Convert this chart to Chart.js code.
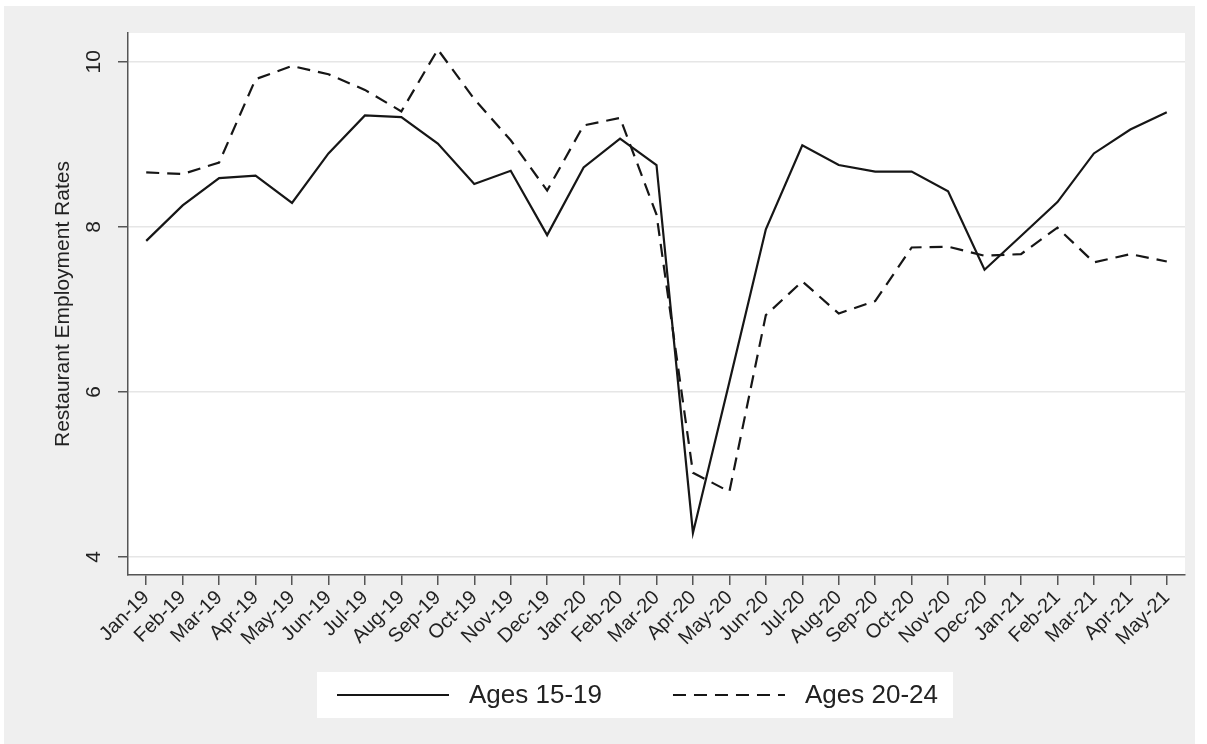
<!DOCTYPE html>
<html>
<head>
<meta charset="utf-8">
<script src="https://cdn.jsdelivr.net/npm/chart.js@4.4.0/dist/chart.umd.min.js"></script>
<style>
    html, body { margin: 0; padding: 0; background: #fff; }
    #frame { position: absolute; left: 4px; top: 6px; width: 1191px; height: 738px; background: #efefef; }
    canvas { display: block; }
</style>
</head>
<body>
<div id="frame"><canvas id="chart"></canvas></div>
<script>
const months = [
    'Jan-19', 'Feb-19', 'Mar-19', 'Apr-19', 'May-19', 'Jun-19', 'Jul-19', 'Aug-19', 'Sep-19', 'Oct-19', 'Nov-19', 'Dec-19',
    'Jan-20', 'Feb-20', 'Mar-20', 'Apr-20', 'May-20', 'Jun-20', 'Jul-20', 'Aug-20', 'Sep-20', 'Oct-20', 'Nov-20', 'Dec-20',
    'Jan-21', 'Feb-21', 'Mar-21', 'Apr-21', 'May-21'
];
const ages1519 = [
    7.83, 8.26, 8.59, 8.62, 8.29, 8.89, 9.35, 9.33, 9.01, 8.52, 8.68, 7.90,
    8.72, 9.07, 8.75, 4.29, 6.12, 7.97, 8.99, 8.75, 8.67, 8.67, 8.43, 7.48,
    7.89, 8.30, 8.89, 9.18, 9.39
];
const ages2024 = [
    8.66, 8.64, 8.78, 9.79, 9.95, 9.85, 9.66, 9.40, 10.15, 9.55, 9.05, 8.44,
    9.23, 9.32, 8.15, 5.02, 4.79, 6.93, 7.34, 6.95, 7.10, 7.75, 7.76, 7.65,
    7.67, 7.99, 7.57, 7.67, 7.58
];
const yTicks = [4, 6, 8, 10];

const FONT = '"Liberation Sans", Arial, sans-serif';
const INK = '#161616';
const AXIS = '#555555';
const TEXT = '#222222';

// white plot region
const plotBg = {
    id: 'plotBg',
    beforeDraw(chart) {
        const a = chart.chartArea, ctx = chart.ctx;
        ctx.save();
        ctx.fillStyle = '#ffffff';
        ctx.fillRect(a.left, a.top, a.right - a.left, a.bottom - a.top);
        ctx.restore();
    }
};

// y tick labels drawn rotated, Stata style
const rotatedYTicks = {
    id: 'rotatedYTicks',
    afterDraw(chart) {
        const y = chart.scales.y, ctx = chart.ctx;
        ctx.save();
        ctx.font = '21px ' + FONT;
        ctx.fillStyle = TEXT;
        ctx.textAlign = 'center';
        ctx.textBaseline = 'middle';
        yTicks.forEach(function(v) {
            ctx.save();
            ctx.translate(y.right - 34, y.getPixelForValue(v));
            ctx.rotate(-Math.PI / 2);
            ctx.fillText(String(v), 0, 0);
            ctx.restore();
        });
        ctx.restore();
    }
};

// legend in a white box below the axis
const boxLegend = {
    id: 'boxLegend',
    afterDraw(chart) {
        const ctx = chart.ctx, a = chart.chartArea;
        const top = a.bottom + 97, h = 46;
        const left = a.left + 189;
        ctx.save();
        ctx.font = '26px ' + FONT;
        const sets = chart.data.datasets;
        const w0 = ctx.measureText(sets[0].label).width;
        const w1 = ctx.measureText(sets[1].label).width;
        const lineLen = 112;
        const x1 = left + 20;
        const t1 = x1 + lineLen + 20;
        const x2 = t1 + w0 + 71;
        const t2 = x2 + lineLen + 20;
        const right = t2 + w1 + 15;
        ctx.fillStyle = '#ffffff';
        ctx.fillRect(left, top, right - left, h);
        const cy = top + h / 2;
        [[x1, t1, sets[0]], [x2, t2, sets[1]]].forEach(function(it) {
            ctx.strokeStyle = INK;
            ctx.lineWidth = 2;
            ctx.setLineDash(it[2].borderDash || []);
            ctx.beginPath();
            ctx.moveTo(it[0], cy);
            ctx.lineTo(it[0] + lineLen, cy);
            ctx.stroke();
            ctx.setLineDash([]);
            ctx.fillStyle = TEXT;
            ctx.textBaseline = 'middle';
            ctx.fillText(it[2].label, it[1], cy + 1);
        });
        ctx.restore();
    }
};

const ctx = document.getElementById('chart').getContext('2d');
new Chart(ctx, {
    type: 'line',
    data: {
        labels: months,
        datasets: [
            {
                label: 'Ages 15-19',
                data: ages1519,
                borderColor: INK,
                borderWidth: 2.2,
                pointRadius: 0,
                tension: 0,
                fill: false
            },
            {
                label: 'Ages 20-24',
                data: ages2024,
                borderColor: INK,
                borderWidth: 2.2,
                borderDash: [13, 8],
                pointRadius: 0,
                tension: 0,
                fill: false
            }
        ]
    },
    options: {
        responsive: true,
        maintainAspectRatio: false,
        animation: false,
        layout: { padding: { left: 0, right: 10, top: 27, bottom: 72 } },
        plugins: {
            legend: { display: false },
            tooltip: { enabled: false }
        },
        scales: {
            x: {
                type: 'category',
                offset: true,
                afterFit: function(s) { s.height = 97; },
                grid: {
                    display: true,
                    drawOnChartArea: false,
                    offset: false,
                    tickLength: 10,
                    color: AXIS,
                    lineWidth: 1.5
                },
                border: { color: AXIS, width: 1.5 },
                ticks: {
                    autoSkip: false,
                    minRotation: 45,
                    maxRotation: 45,
                    padding: 1,
                    color: TEXT,
                    font: { family: FONT, size: 20 }
                }
            },
            y: {
                min: 3.78,
                max: 10.35,
                afterBuildTicks: function(s) { s.ticks = yTicks.map(function(v) { return { value: v }; }); },
                afterFit: function(s) { s.width = 124; },
                ticks: { display: false },
                grid: {
                    color: '#e6e6e6',
                    lineWidth: 1.5,
                    drawTicks: true,
                    tickLength: 10,
                    tickColor: AXIS,
                    tickWidth: 1.5
                },
                border: { color: AXIS, width: 1.5 },
                title: {
                    display: true,
                    text: 'Restaurant Employment Rates',
                    color: TEXT,
                    font: { family: FONT, size: 21 },
                    padding: { top: 47, bottom: 0 }
                }
            }
        }
    },
    plugins: [plotBg, rotatedYTicks, boxLegend]
});
</script>
</body>
</html>
